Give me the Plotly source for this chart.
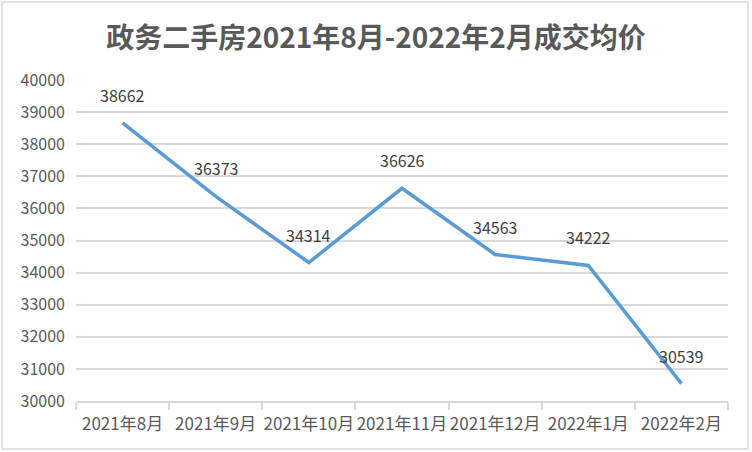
import plotly.graph_objects as go

# data
months = ["2021年8月", "2021年9月", "2021年10月", "2021年11月",
          "2021年12月", "2022年1月", "2022年2月"]
avg_price = [38662, 36373, 34314, 36626, 34563, 34222, 30539]
y_ticks = list(range(30000, 40001, 1000))

W, H = 752, 452
L, R, T, B = 76, 24, 80, 51
TEXT = "#595959"
GRID = "#D9D9D9"
FONT = "Noto Sans CJK SC"

fig = go.Figure()
fig.add_trace(go.Scatter(x=months, y=avg_price, mode="lines",
                         line=dict(color="#5B9BD5", width=3.5),
                         hoverinfo="x+y"))

# value labels above each point
for m, v in zip(months, avg_price):
    fig.add_annotation(x=m, y=v, text=str(v), showarrow=False, yshift=28,
                       font=dict(family=FONT, size=16, color="#404040"))

# outer chart border
pw, ph = W - L - R, H - T - B
fig.add_shape(type="rect", xref="paper", yref="paper",
              x0=(2 - L) / pw, x1=(748 - L) / pw,
              y0=(H - B - 449) / ph, y1=(H - B - 2) / ph,
              line=dict(color=GRID, width=1.5), layer="below")

fig.update_layout(
    width=W, height=H,
    margin=dict(l=L, r=R, t=T, b=B),
    paper_bgcolor="white", plot_bgcolor="white",
    showlegend=False,
    font=dict(family=FONT, size=16, color=TEXT),
    title=dict(text="<b>政务二手房2021年8月-2022年2月成交均价</b>",
               x=0.5, xref="container", xanchor="center",
               y=1 - 38 / H, yanchor="middle",
               font=dict(family=FONT, size=28, color=TEXT)),
)
fig.update_xaxes(type="category", range=[-0.5, len(months) - 0.5],
                 showgrid=False, automargin=False, tickangle=0,
                 showline=True, linecolor=GRID, linewidth=1.5,
                 ticks="outside", tickson="boundaries", ticklen=7,
                 tickcolor=GRID, tickwidth=1.5, ticklabelstandoff=7,
                 tickfont=dict(family=FONT, size=17, color=TEXT))
fig.update_yaxes(range=[30000, 40000], tickvals=y_ticks, tickformat="d",
                 showgrid=True, gridcolor=GRID, gridwidth=1.5,
                 zeroline=False, showline=False, ticklabelstandoff=10,
                 automargin=False,
                 tickfont=dict(family=FONT, size=16, color=TEXT))

# page body has a default margin; drop it so the chart sits at the corner
fig.write_html("out.html", config={"displayModeBar": False},
               post_script="document.body.style.margin='0';")
